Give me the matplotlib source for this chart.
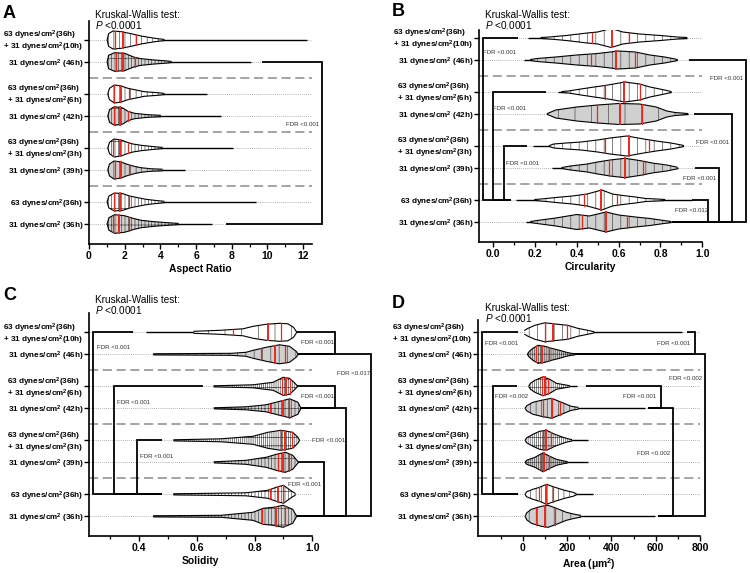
import numpy as np
import matplotlib.pyplot as plt
from matplotlib.ticker import FixedLocator, FormatStrFormatter

plt.rcParams['font.family'] = ['Liberation Sans', 'DejaVu Sans']
plt.rcParams['mathtext.fontset'] = 'custom'
plt.rcParams['mathtext.rm'] = 'Liberation Sans'
plt.rcParams['mathtext.bf'] = 'Liberation Sans:bold'
plt.rcParams['mathtext.it'] = 'Liberation Sans:italic'
plt.rcParams['hatch.linewidth'] = 0.45

# ---------------- data ----------------
sup = r'$^{\mathbf{2}}$'
groups = [f'63 dynes/cm{sup}(36h)\n+ 31 dynes/cm{sup}(10h)',
          f'31 dynes/cm{sup} (46h)',
          f'63 dynes/cm{sup}(36h)\n+ 31 dynes/cm{sup}(6h)',
          f'31 dynes/cm{sup} (42h)',
          f'63 dynes/cm{sup}(36h)\n+ 31 dynes/cm{sup}(3h)',
          f'31 dynes/cm{sup} (39h)',
          f'63 dynes/cm{sup}(36h)',
          f'31 dynes/cm{sup} (36h)']

# violin outlines: x values and half widths (in px) along each violin
ar_x = [[1.02, 1.1, 1.34, 1.8, 2.36, 2.92, 3.48, 3.85, 4.2],
        [1.02, 1.1, 1.43, 1.99, 2.27, 2.55, 2.92, 3.66, 4.2, 4.6],
        [1.06, 1.15, 1.43, 1.8, 2.18, 2.64, 3.1, 3.85, 4.2],
        [1.06, 1.15, 1.43, 1.9, 2.18, 2.55, 3.3, 4.0],
        [1.06, 1.15, 1.4, 1.8, 2.14, 2.46, 2.92, 3.66, 4.1],
        [1.06, 1.15, 1.4, 1.8, 2.14, 2.46, 2.9, 3.5, 4.1],
        [1.02, 1.12, 1.43, 1.9, 2.27, 2.73, 3.2, 3.66, 4.2],
        [1.02, 1.12, 1.43, 1.99, 2.46, 2.92, 3.66, 4.4, 5.0]]
ar_w = [[0.5, 6.3, 9, 8.3, 6.3, 4, 2.3, 1.3, 0.6],
        [0.5, 6.7, 9.3, 8.7, 6.7, 4.7, 3.3, 2, 1.3, 0.6],
        [0.5, 5.7, 9, 8, 5.7, 4, 2.3, 1.3, 0.6],
        [0.5, 6.3, 9.3, 8, 4.7, 2.7, 1.3, 0.7],
        [0.5, 5.7, 9, 8, 5.7, 4, 2.7, 1.3, 0.6],
        [0.5, 6, 9, 8, 5.7, 4, 2.3, 1.2, 0.8],
        [0.5, 6, 9, 8.3, 6, 4.3, 2.7, 1.7, 0.7],
        [0.5, 6.3, 9.3, 8.3, 5.7, 3.7, 2.3, 1.3, 0.6]]
ar_q = [[1.43, 1.9, 2.64], [1.53, 1.9, 2.6], [1.4, 1.77, 2.27], [1.4, 1.71, 2.18],
        [1.34, 1.71, 2.18], [1.43, 1.8, 2.27], [1.4, 1.75, 2.27], [1.34, 1.66, 2.27]]
ar_tail = [[1.02, 12.22], [1.02, 9.06], [1.06, 6.64], [1.06, 7.39],
           [1.06, 8.07], [1.06, 5.38], [1.02, 9.34], [1.02, 6.88]]

ci_x = [[0.23, 0.27, 0.35, 0.45, 0.5, 0.565, 0.62, 0.7, 0.8, 0.88, 0.925],
        [0.18, 0.21, 0.3, 0.4, 0.5, 0.6, 0.68, 0.75, 0.82, 0.87, 0.88],
        [0.33, 0.36, 0.42, 0.5, 0.55, 0.63, 0.7, 0.75, 0.82, 0.85],
        [0.26, 0.3, 0.4, 0.5, 0.6, 0.7, 0.78, 0.83, 0.87, 0.93],
        [0.27, 0.29, 0.35, 0.42, 0.5, 0.56, 0.64, 0.72, 0.78, 0.85, 0.9, 0.91],
        [0.33, 0.37, 0.45, 0.5, 0.56, 0.63, 0.7, 0.76, 0.83, 0.88],
        [0.2, 0.23, 0.3, 0.38, 0.45, 0.52, 0.57, 0.62, 0.68, 0.73, 0.8, 0.82],
        [0.18, 0.21, 0.3, 0.4, 0.46, 0.54, 0.6, 0.68, 0.75, 0.8, 0.85]]
ci_w = [[0.5, 1, 2.5, 5, 6, 9.5, 6, 4, 2.5, 1, 0.5],
        [0.5, 1.5, 3, 5, 6.5, 9, 8, 5, 3, 1, 0.5],
        [0.5, 1, 3, 5.5, 7, 10, 8, 5, 2, 0.5],
        [0.5, 4, 7, 9, 10.5, 10, 7, 3, 1.5, 0.5],
        [0.5, 2, 3, 4, 6, 8, 10, 7, 5, 3, 1, 0.5],
        [0.5, 2, 4, 6, 8, 9.7, 7.5, 5, 3, 0.8],
        [0.5, 1, 2.5, 4, 6, 10, 6, 4.5, 3, 1.5, 0.8, 0.5],
        [0.5, 1.5, 4, 7.5, 6, 10, 7, 5, 3.5, 2, 0.5]]
ci_q = [[0.471, 0.568, 0.651], [0.469, 0.588, 0.679], [0.537, 0.628, 0.70], [0.498, 0.608, 0.711],
        [0.533, 0.648, 0.743], [0.553, 0.633, 0.719], [0.437, 0.517, 0.593], [0.426, 0.54, 0.641]]
ci_tail = [[0.166, 0.925], [0.15, 0.88], [0.31, 0.85], [0.265, 0.93],
           [0.19, 0.91], [0.28, 0.884], [0.11, 0.95], [0.158, 0.85]]

so_x = [[0.59, 0.68, 0.76, 0.795, 0.84, 0.886, 0.915, 0.935, 0.945],
        [0.45, 0.72, 0.77, 0.795, 0.84, 0.886, 0.921, 0.944, 0.95],
        [0.66, 0.794, 0.864, 0.899, 0.921, 0.94, 0.948],
        [0.66, 0.77, 0.84, 0.887, 0.922, 0.95, 0.96],
        [0.52, 0.684, 0.794, 0.846, 0.891, 0.932, 0.95, 0.955],
        [0.66, 0.77, 0.84, 0.875, 0.907, 0.932, 0.95],
        [0.52, 0.77, 0.846, 0.875, 0.9, 0.924, 0.94],
        [0.45, 0.684, 0.794, 0.83, 0.864, 0.899, 0.932, 0.944]]
so_w = [[1, 2, 3.5, 6, 8, 9, 8.5, 5, 0.5],
        [0.5, 1, 2, 4, 7, 9.5, 8, 3, 0.5],
        [0.5, 1.5, 4, 9, 8, 3, 0.5],
        [0.5, 1.5, 3.5, 7, 9.5, 6, 0.5],
        [0.5, 1.5, 4, 8, 10, 8, 3, 0.5],
        [0.5, 2, 5, 8, 10, 7, 0.8],
        [0.5, 1.5, 4, 7, 9, 4, 1],
        [0.5, 1, 4, 8, 9, 11, 7, 1]]
so_q = [[0.726, 0.847, 0.89], [0.823, 0.872, 0.906], [0.895, 0.91, 0.922], [0.855, 0.897, 0.92],
        [0.89, 0.905, 0.93], [0.88, 0.9, 0.92], [0.855, 0.88, 0.9], [0.826, 0.875, 0.906]]
so_tail = [[0.424, 0.94], [0.447, 0.95], [0.655, 0.946], [0.66, 0.96],
           [0.522, 0.95], [0.66, 0.95], [0.516, 0.94], [0.447, 0.944]]

ae_x = [[9, 24, 55, 100, 158, 203, 248, 293, 320],
        [22, 30, 46, 69, 100, 130, 166, 197, 219, 235],
        [28, 35, 55, 92, 122, 152, 189, 210],
        [12, 18, 46, 84, 130, 175, 219, 249],
        [12, 18, 46, 76, 107, 145, 182, 204, 220],
        [12, 18, 55, 92, 122, 152, 182, 200],
        [12, 18, 46, 76, 107, 145, 189, 227, 240],
        [12, 18, 39, 84, 115, 152, 197, 234, 260]]
ae_w = [[2, 4, 7, 9.5, 8, 7, 4, 2, 0.7],
        [0.5, 3, 6, 9, 8, 6, 4, 2, 1, 0.5],
        [0.5, 3, 6, 9.5, 7, 3, 1.5, 0.7],
        [0.5, 2.5, 6, 8, 10, 6, 2, 1],
        [0.5, 2.5, 6, 9, 10, 6, 3, 1.5, 0.8],
        [0.5, 2, 5, 9.5, 6, 3, 1.5, 0.8],
        [0.5, 2.5, 5, 7, 10, 7, 4, 2, 0.8],
        [0.5, 3.5, 7, 10, 11, 8, 4, 2, 1]]
ae_q = [[99, 136, 201], [60, 85, 118], [85, 100, 115], [92, 133, 168],
        [92, 107, 126], [81, 96, 117], [73, 103, 136], [61, 100, 145]]
ae_tail = [[9, 720], [24, 230], [32, 245], [16, 550],
           [16, 294], [16, 294], [16, 318], [16, 595]]

# FDR annotations per panel
ar_fdr = ['FDR <0.001']
ci_fdr = ['FDR <0.001'] * 6 + ['FDR <0.012']
so_fdr = ['FDR <0.001'] * 4 + ['FDR <0.017', 'FDR <0.001', 'FDR <0.001', 'FDR <0.001']
ae_fdr = ['FDR <0.001', 'FDR <0.002', 'FDR <0.001', 'FDR <0.002', 'FDR <0.001', 'FDR <0.002']

# ---------------- layout ----------------
rows = [0, 22, 54, 76, 108, 130, 162, 184]
W, H = 750, 573
fig = plt.figure(figsize=(W / 100, H / 100), dpi=100)


def px_axes(l, t, r, b):
    return fig.add_axes([l / W, 1 - b / H, (r - l) / W, (b - t) / H])


def fig_text(x, y, s, **kw):
    fig.text(x / W, 1 - y / H, s, **kw)


def bracket(ax, ra, rb, xv, xa, xb):
    ax.plot([xa, xv, xv, xb], [rows[ra], rows[ra], rows[rb], rows[rb]], color='black',
            lw=1.3, clip_on=False, zorder=6, solid_joinstyle='miter', solid_capstyle='butt')


def panel(ax, xs, ws, qs, tails, tex, xlim, ytop, majors, minors, fmt, xlabel):
    ax.set_xlim(*xlim)
    ax.set_ylim(204, ytop)
    for i, y in enumerate(rows):
        ax.axhline(y, color='#9a9a9a', lw=0.6, ls=(0, (1, 1.5)), zorder=1)
        ax.plot(tails[i], [y, y], color='black', lw=1.0, zorder=2, solid_capstyle='butt')
        x = np.array(xs[i])
        w = np.array(ws[i])
        face = 'white' if i % 2 == 0 else '#d0d0d0'
        ax.fill_between(x, y - w, y + w, facecolor=face, edgecolor='none', zorder=3)
        ax.fill_between(x, y - w, y + w, facecolor='none', edgecolor='#404040',
                        hatch=tex[i], lw=0, zorder=3.1)
        ax.plot(x, y - w, color='black', lw=0.8, zorder=3.2)
        ax.plot(x, y + w, color='black', lw=0.8, zorder=3.2)
        for q, lw in zip(qs[i], [0.9, 1.4, 0.9]):
            h = np.interp(q, x, w)
            ax.plot([q, q], [y - h, y + h], color='#e8281e', lw=lw, zorder=4)
    for yd in [38, 92, 146]:
        ax.axhline(yd, color='#8c8c8c', lw=1.1, ls=(0, (6, 3)), zorder=1)
    ax.set_yticks(rows)
    ax.set_yticklabels(groups, fontsize=5.9, fontweight='bold')
    for lab in ax.get_yticklabels():
        lab.set_multialignment('left')
        lab.set_linespacing(0.85)
    ax.xaxis.set_major_locator(FixedLocator(majors))
    ax.xaxis.set_minor_locator(FixedLocator(minors))
    ax.xaxis.set_major_formatter(FormatStrFormatter(fmt))
    ax.tick_params(axis='both', which='major', length=3.5, width=1.0, pad=1.5)
    ax.tick_params(axis='y', pad=0.6)
    ax.tick_params(axis='x', which='minor', length=2.5, width=0.9)
    ax.tick_params(axis='x', labelsize=7.5)
    for lab in ax.get_xticklabels():
        lab.set_fontweight('bold')
    ax.set_xlabel(xlabel, fontsize=7.4, fontweight='bold', labelpad=2)
    for s in ['top', 'right']:
        ax.spines[s].set_visible(False)
    for s in ['left', 'bottom']:
        ax.spines[s].set_linewidth(1.2)
    ax.set_facecolor('none')


def fdr(ax, x, y, s, ha):
    ax.text(x, y, s, fontsize=4.4, color='#333333', ha=ha, va='center', clip_on=False, zorder=7)


# hatch textures standing in for the scattered cell points
light, mid, dense, dark = '||', '|||', '||||+', '||||||++'

# Panel A - aspect ratio
axA = px_axes(89, 21, 312, 244)
panel(axA, ar_x, ar_w, ar_q, ar_tail, [mid, dense, mid, dense, dense, mid, dense, dense],
      (0, 12.5), -19, list(range(0, 13, 2)), list(range(1, 13, 2)), '%d', 'Aspect Ratio')
bracket(axA, 1, 7, 13.08, 9.7, 7.7)
fdr(axA, 12.9, 84.7, ar_fdr[0], 'right')

# Panel B - circularity
axB = px_axes(479, 30, 702.3, 242)
panel(axB, ci_x, ci_w, ci_q, ci_tail, [light, light, light, '|', light, light, light, light],
      (-0.067, 1.0), -8, [0, 0.2, 0.4, 0.6, 0.8, 1.0], [0.1, 0.3, 0.5, 0.7, 0.9], '%.1f', 'Circularity')
bracket(axB, 0, 6, -0.048, 0.118, 0.088)
bracket(axB, 2, 6, -0.002, 0.254, 0.088)
bracket(axB, 4, 6, 0.054, 0.16, 0.088)
bracket(axB, 1, 7, 1.207, 0.935, 0.853)
bracket(axB, 3, 7, 1.144, 0.96, 0.853)
bracket(axB, 5, 7, 1.081, 0.967, 0.853)
bracket(axB, 6, 7, 1.029, 0.95, 0.853)
fdr(axB, -0.046, 14, ci_fdr[0], 'left')
fdr(axB, 0.0, 70, ci_fdr[1], 'left')
fdr(axB, 0.062, 125.7, ci_fdr[2], 'left')
fdr(axB, 1.195, 41, ci_fdr[3], 'right')
fdr(axB, 1.13, 104.3, ci_fdr[4], 'right')
fdr(axB, 1.067, 141, ci_fdr[5], 'right')
fdr(axB, 1.028, 172.7, ci_fdr[6], 'right')

# Panel C - solidity
axC = px_axes(89, 313.3, 312.3, 536.3)
panel(axC, so_x, so_w, so_q, so_tail, ['|', light, dark, dense, dark, dense, dense, dense],
      (0.2255, 1.0), -19, [0.4, 0.6, 0.8, 1.0], [0.3, 0.5, 0.7, 0.9], '%.1f', 'Solidity')
bracket(axC, 0, 6, 0.24, 0.378, 0.477)
bracket(axC, 2, 6, 0.311, 0.62, 0.477)
bracket(axC, 4, 6, 0.391, 0.477, 0.477)
bracket(axC, 0, 1, 1.078, 0.945, 0.95)
bracket(axC, 1, 7, 1.205, 0.95, 0.944)
bracket(axC, 2, 3, 1.078, 0.948, 0.96)
bracket(axC, 3, 7, 1.118, 0.96, 0.944)
bracket(axC, 5, 7, 1.04, 0.95, 0.944)
fdr(axC, 0.252, 15, so_fdr[0], 'left')
fdr(axC, 0.322, 70, so_fdr[1], 'left')
fdr(axC, 0.402, 124.4, so_fdr[2], 'left')
fdr(axC, 1.075, 10.4, so_fdr[3], 'right')
fdr(axC, 1.2, 41, so_fdr[4], 'right')
fdr(axC, 1.075, 64.4, so_fdr[5], 'right')
fdr(axC, 1.113, 107.7, so_fdr[6], 'right')
fdr(axC, 1.031, 152.7, so_fdr[7], 'right')

# Panel D - area
axD = px_axes(478.4, 320.3, 700, 536.3)
panel(axD, ae_x, ae_w, ae_q, ae_tail, [light, dark, dark, mid, dark, dark, mid, light],
      (-200, 800), -12, [0, 200, 400, 600, 800], [-100, 100, 300, 500, 700], '%d', 'Area (μm$^{\\mathbf{2}}$)')
bracket(axD, 0, 6, -182, -21, -21)
bracket(axD, 2, 6, -133, -24, -21)
bracket(axD, 0, 1, 778, 740, 234)
bracket(axD, 1, 7, 823, 234, 610)
bracket(axD, 2, 3, 624, 285, 565)
bracket(axD, 3, 7, 677, 565, 610)
fdr(axD, -172, 11, ae_fdr[0], 'left')
fdr(axD, -127, 64.4, ae_fdr[1], 'left')
fdr(axD, 754, 11, ae_fdr[2], 'right')
fdr(axD, 809, 46, ae_fdr[3], 'right')
fdr(axD, 603, 64.4, ae_fdr[4], 'right')
fdr(axD, 666, 121, ae_fdr[5], 'right')

# test labels and panel letters
for (x, y) in [(95, 15), (485, 15), (95, 300), (485, 308.3)]:
    fig_text(x, y, 'Kruskal-Wallis test:', fontsize=7.2, ha='left', va='center')
    fig_text(x, y + 10, r'$\mathit{P}$ <0.0001', fontsize=7.2, ha='left', va='center')
for (x, y, s) in [(3, 13, 'A'), (392, 12, 'B'), (3, 296, 'C'), (392, 304, 'D')]:
    fig_text(x, y, s, fontsize=13, fontweight='bold', ha='left', va='center')

fig.savefig('out.png', dpi=100)
